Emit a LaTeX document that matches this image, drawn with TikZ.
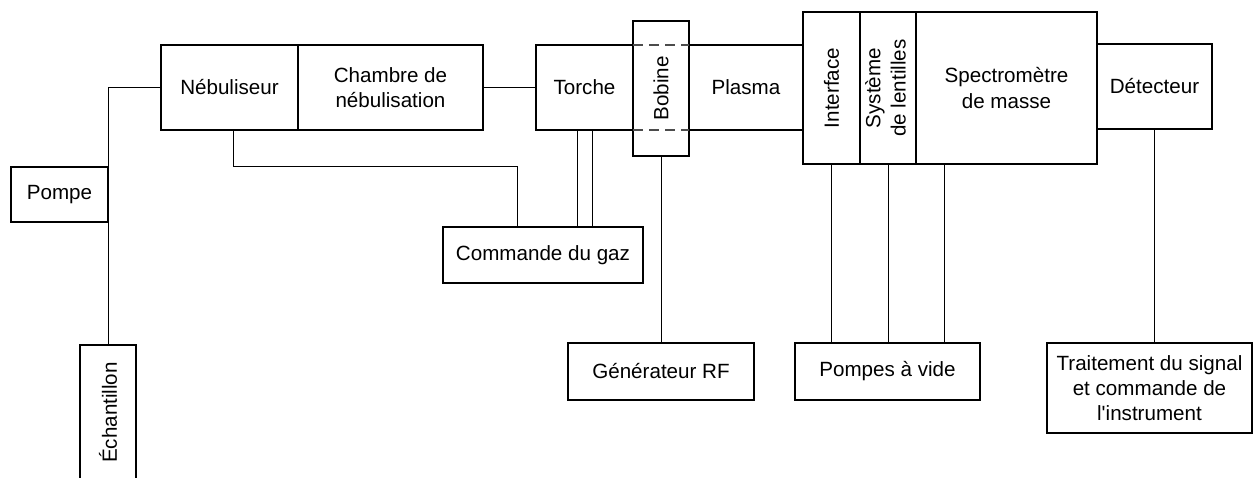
\documentclass[tikz,border=0pt]{standalone}
\usepackage{fontspec}
\setmainfont{Liberation Sans}[Ligatures=TeXOff]
\usepackage{graphicx}

\begin{document}
\begin{tikzpicture}[x=0.5pt,y=-0.5pt,
  blk/.style={draw,line width=1pt,inner sep=0pt,outer sep=0pt,anchor=north west,align=center},
  wire/.style={line width=0.5pt},
  font=\fontsize{10.3}{12.6}\selectfont]
\useasboundingbox (0,0) rectangle (1253,477);
\node [blk,minimum width=68.5pt,minimum height=42.5pt] (neb) at (161,45) {Nébuliseur};
\node [blk,minimum width=92.5pt,minimum height=42.5pt] (chamb) at (298,45) {Chambre de\\nébulisation};
\node [blk,minimum width=48.5pt,minimum height=42.5pt] (torche) at (536,45) {Torche};
\node [blk,minimum width=57pt,minimum height=42.5pt] (plasma) at (689,45) {Plasma};
\node [blk,minimum width=28pt,minimum height=67.5pt] (bobine) at (633,21) {\rotatebox{90}{Bobine}};
\draw [wire,dashed,dash pattern=on 5pt off 3pt,gray!60!black,line width=0.7pt] (bobine.west |- torche.north) -- (bobine.east |- torche.north);
\draw [wire,dashed,dash pattern=on 5pt off 3pt,gray!60!black,line width=0.7pt] (bobine.west |- torche.south) -- (bobine.east |- torche.south);
\node [blk,minimum width=28.5pt,minimum height=76pt] (interf) at (803,12) {\rotatebox{90}{Interface}};
\node [blk,minimum width=28pt,minimum height=76pt] (lent) at (860,12) {\rotatebox{90}{\begin{tabular}{@{}c@{}}Système\\de lentilles\end{tabular}}};
\node [blk,minimum width=90.5pt,minimum height=76pt] (spectro) at (916,12) {Spectromètre\\de masse};
\node [blk,minimum width=57.5pt,minimum height=42.5pt] (detect) at (1097,44) {Détecteur};
\node [blk,minimum width=48.5pt,minimum height=27.5pt] (pompe) at (11,167) {Pompe};
\node [blk,minimum width=28pt,minimum height=67.5pt] (echant) at (80,345) {\rotatebox{90}{Échantillon}};
\node [blk,minimum width=100pt,minimum height=28pt] (gaz) at (443,227) {Commande du gaz};
\node [blk,minimum width=93pt,minimum height=28.5pt] (rf) at (568,343) {Générateur RF};
\node [blk,minimum width=92.5pt,minimum height=28.5pt] (vide) at (795,343) {Pompes à vide};
\node [blk,minimum width=102.5pt,minimum height=45pt] (trait) at (1047,343) {Traitement du signal\\et commande de\\l'instrument};

\coordinate (n1) at (233,130);
\coordinate (k1) at (517,166);
\coordinate (t1) at (577,130);
\coordinate (t2) at (592,130);
\coordinate (s1) at (944,164);

\draw [wire] (neb.west) -| (pompe.north east);
\draw [wire] (pompe.south east) -- (echant.north);
\draw [wire] (chamb.east) -- (torche.west);
\draw [wire] (n1) |- (k1) -- (k1 |- gaz.north);
\draw [wire] (t1) -- (t1 |- gaz.north);
\draw [wire] (t2) -- (t2 |- gaz.north);
\draw [wire] (bobine.south) -- (rf.north);
\draw [wire] (interf.south) -- (interf.south |- vide.north);
\draw [wire] (lent.south) -- (lent.south |- vide.north);
\draw [wire] (s1) -- (s1 |- vide.north);
\draw [wire] (detect.south) -- (detect.south |- trait.north);
\end{tikzpicture}
\end{document}
